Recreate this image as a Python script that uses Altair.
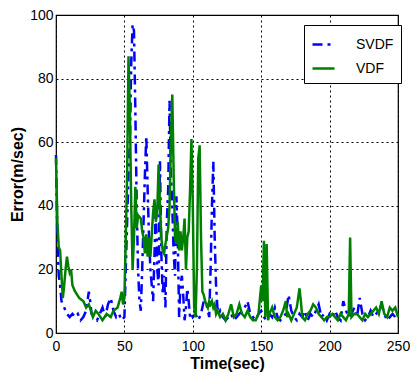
import altair as alt
import pandas as pd

# VDF (solid green)
vdf_t = [0, 1, 2, 3, 4, 5, 6, 7, 8, 9, 10, 11, 12, 14, 17, 20, 22, 24, 27, 29, 31, 34, 37, 40, 42, 45, 47, 48, 49,
         50, 51, 52, 53, 54, 55, 56, 57, 58, 59, 60, 62, 63, 64, 65, 66, 67, 68, 69, 70, 71, 72, 73, 74, 75, 76, 77,
         78, 79, 80, 82, 83, 84, 85, 86, 87, 88, 89, 90, 91, 92, 93, 94, 95, 96, 97, 98, 99, 100, 101, 102, 103, 104,
         105, 106, 107, 108, 109, 110, 111, 112, 113, 114, 115, 116, 117, 118, 120, 122, 124, 126, 128, 130, 132, 134,
         136, 138, 140, 142, 144, 146, 148, 150, 151, 152, 153, 154, 155, 156, 158, 160, 162, 164, 166, 168, 169, 170,
         172, 174, 176, 178, 179, 180, 182, 184, 186, 188, 190, 192, 194, 196, 198, 200, 202, 204, 206, 208, 210, 212,
         214, 215, 216, 218, 220, 222, 224, 226, 228, 230, 232, 234, 236, 238, 240, 242, 244, 246, 248, 250]
vdf_v = [55, 35, 27, 26, 18, 11, 15, 20, 24, 21, 19, 20, 15, 13, 11, 10, 8, 9, 5, 7, 6, 4, 6, 5, 7, 8, 11, 13, 9,
         11, 30, 50, 87, 70, 40, 20, 30, 46, 33, 37, 36, 32, 30, 25, 31, 24, 30, 24, 31, 38, 42, 35, 38, 53, 40, 30,
         26, 25, 28, 33, 40, 60, 75, 50, 30, 28, 35, 26, 32, 26, 30, 36, 20, 30, 32, 45, 61, 40, 8, 5, 20, 55,
         59, 30, 13, 12, 10, 9, 8, 10, 9, 10, 8, 9, 6, 7, 5, 6, 4, 6, 9, 5, 6, 9,
         6, 5, 7, 5, 4, 4, 6, 15, 10, 29, 5, 28, 4, 6, 8, 5, 4, 5, 7, 10, 5, 6,
         4, 6, 8, 14, 10, 5, 4, 6, 7, 9, 8, 6, 5, 4, 5, 5, 6, 5, 4, 6, 5, 4,
         6, 30, 5, 6, 6, 5, 4, 6, 5, 6, 7, 8, 6, 10, 6, 5, 8, 7, 8, 5]

# SVDF (blue dash-dot)
svdf_t = [0, 1, 2, 3, 4, 5, 6, 8, 10, 12, 14, 16, 18, 20, 22, 24, 25, 26, 28, 30, 32, 34, 36, 38, 40, 42, 44, 46, 48,
          50, 51, 52, 53, 54, 55, 56, 57, 58, 59, 60, 61, 62, 63, 64, 65, 66, 67, 68, 69, 70, 71, 72, 73, 74, 75, 76,
          77, 78, 79, 80, 81, 82, 83, 84, 85, 86, 87, 88, 89, 90, 91, 92, 93, 94, 95, 96, 97, 98, 99, 100, 102, 104,
          106, 108, 110, 112, 113, 114, 115, 116, 117, 118, 119, 120, 122, 124, 126, 128, 130, 132, 134, 136, 138, 140,
          142, 144, 146, 148, 150, 152, 154, 156, 158, 160, 162, 164, 166, 168, 170, 172, 174, 176, 178, 180, 182, 184,
          186, 188, 190, 192, 194, 196, 198, 200, 202, 204, 206, 208, 210, 212, 214, 216, 218, 220, 222, 224, 226, 228,
          230, 232, 234, 236, 238, 240, 242, 244, 246, 248, 250]
svdf_v = [56, 30, 18, 15, 10, 9, 8, 6, 5, 6, 5, 6, 4, 5, 7, 13, 10, 6, 5, 4, 6, 8, 5, 9, 11, 7, 5, 6, 4,
          5, 20, 35, 50, 60, 85, 97, 95, 70, 40, 20, 10, 7, 20, 35, 50, 62, 45, 30, 20, 15, 10, 25, 40, 20, 15, 54,
          25, 12, 18, 8, 35, 45, 73, 50, 40, 25, 18, 43, 30, 5, 15, 18, 12, 4, 8, 14, 10, 5, 6, 5, 6, 4,
          6, 10, 9, 5, 20, 40, 54, 30, 15, 8, 6, 7, 5, 4, 5, 6, 4, 5, 6, 7, 8, 10,
          6, 5, 4, 6, 7, 5, 4, 6, 5, 8, 5, 4, 5, 6, 12, 7, 5, 4, 6, 5, 7, 4,
          6, 5, 7, 9, 5, 6, 4, 6, 5, 7, 5, 4, 10, 7, 5, 6, 8, 5, 11, 6, 4, 5,
          7, 5, 6, 7, 9, 6, 4, 5, 6, 5, 6]

assert len(vdf_t) == len(vdf_v) and len(svdf_t) == len(svdf_v)

series = ["SVDF", "VDF"]
colors = ["#0000FF", "#008000"]
dashes = [[10, 5, 3, 5], [1, 0]]

df = pd.concat([
    pd.DataFrame({"t": svdf_t, "v": svdf_v, "s": "SVDF"}),
    pd.DataFrame({"t": vdf_t, "v": vdf_v, "s": "VDF"}),
])

FONT = "Liberation Sans"

legend = alt.Legend(
    title=None, orient="none", legendX=248, legendY=10,
    symbolType="stroke", symbolSize=484, symbolStrokeWidth=2.5,
    labelFont=FONT, labelFontSize=14, labelColor="black", labelOffset=20,
    strokeColor="black", fillColor="white", padding=7, rowPadding=4,
)

chart = alt.Chart(df).mark_line(strokeWidth=2.5).encode(
    x=alt.X("t:Q", scale=alt.Scale(domain=[0, 250], nice=False),
            axis=alt.Axis(values=[0, 50, 100, 150, 200, 250], title="Time(sec)")),
    y=alt.Y("v:Q", scale=alt.Scale(domain=[0, 100], nice=False),
            axis=alt.Axis(values=[0, 20, 40, 60, 80, 100], title="Error(m/sec)")),
    color=alt.Color("s:N", scale=alt.Scale(domain=series, range=colors), legend=legend),
    strokeDash=alt.StrokeDash("s:N", scale=alt.Scale(domain=series, range=dashes), legend=legend),
    order=alt.Order("t:Q"),
).properties(
    width=342, height=318,
    autosize=alt.AutoSizeParams(type="none"),
    padding={"left": 48, "top": 7, "right": 13, "bottom": 43},
).configure_view(
    stroke="black", strokeWidth=1.2,
).configure_axis(
    grid=True, gridColor="black", gridDash=[2, 3], gridOpacity=1, gridWidth=1,
    domain=False, ticks=False, labelFlush=False,
    labelFont=FONT, labelFontSize=14, labelColor="black",
    titleColor="black",
).configure_axisX(
    labelPadding=6, titleFont=FONT, titleFontSize=16, titleFontWeight="bold", titlePadding=2,
).configure_axisY(
    labelPadding=3, titleFont=FONT, titleFontSize=16, titleFontWeight="bold", titlePadding=4,
)

chart.save("out.html", embed_options={"renderer": "svg", "actions": False})
